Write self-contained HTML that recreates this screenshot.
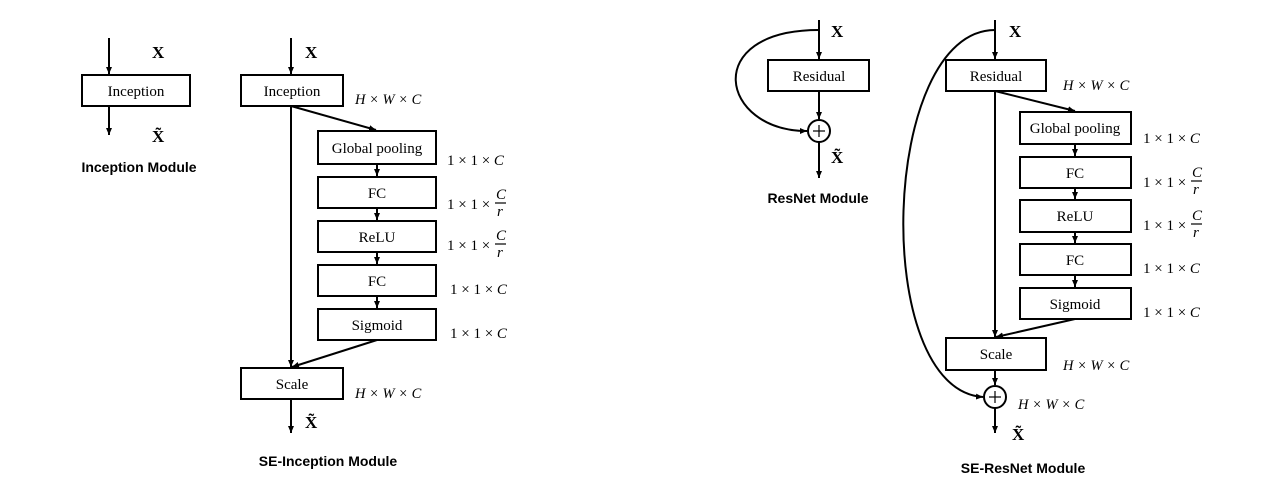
<!DOCTYPE html>
<html><head><meta charset="utf-8"><style>
html,body{margin:0;padding:0;background:#fff;}
svg text{font-family:"Liberation Serif",serif;fill:#000;}
.b{font-size:15px;text-anchor:middle;}
.m{font-size:14.5px;font-style:italic;}
.n{font-size:15px;}
.f{font-size:15px;font-style:italic;}
.x{font-size:17px;font-weight:bold;}
.cap{font-family:"Liberation Sans",sans-serif !important;font-size:14px;font-weight:bold;text-anchor:middle;}
</style></head><body>
<svg width="1267" height="485" viewBox="0 0 1267 485" xmlns="http://www.w3.org/2000/svg">
<defs>
<marker id="a" markerWidth="8" markerHeight="8" refX="7" refY="4" orient="auto" markerUnits="userSpaceOnUse">
<path d="M0,1 L7,4 L0,7 Z" fill="#000"/></marker>
</defs>
<g stroke="#000" stroke-width="2" fill="none">
<line x1="109" y1="38" x2="109" y2="74" marker-end="url(#a)"/>
<rect x="82" y="75" width="108" height="31" fill="#fff"/>
<line x1="109" y1="106" x2="109" y2="135" marker-end="url(#a)"/>
<line x1="291" y1="38" x2="291" y2="74" marker-end="url(#a)"/>
<rect x="241" y="75" width="102" height="31"/>
<line x1="291" y1="106" x2="291" y2="367" marker-end="url(#a)"/>
<line x1="291" y1="106" x2="376" y2="130" marker-end="url(#a)"/>
<rect x="318" y="131" width="118" height="33"/>
<rect x="318" y="177" width="118" height="31"/>
<rect x="318" y="221" width="118" height="31"/>
<rect x="318" y="265" width="118" height="31"/>
<rect x="318" y="309" width="118" height="31"/>
<line x1="377" y1="164" x2="377" y2="176" marker-end="url(#a)"/>
<line x1="377" y1="208" x2="377" y2="220" marker-end="url(#a)"/>
<line x1="377" y1="252" x2="377" y2="264" marker-end="url(#a)"/>
<line x1="377" y1="296" x2="377" y2="308" marker-end="url(#a)"/>
<line x1="377" y1="340" x2="292" y2="367" marker-end="url(#a)"/>
<rect x="241" y="368" width="102" height="31"/>
<line x1="291" y1="399" x2="291" y2="433" marker-end="url(#a)"/>
<line x1="819" y1="20" x2="819" y2="59" marker-end="url(#a)"/>
<rect x="768" y="60" width="101" height="31"/>
<line x1="819" y1="91" x2="819" y2="119" marker-end="url(#a)"/>
<circle cx="819" cy="131" r="11"/>
<path d="M819,30 C700,30 720,131 807,131" marker-end="url(#a)"/>
<line x1="819" y1="142" x2="819" y2="178" marker-end="url(#a)"/>
<line x1="995" y1="20" x2="995" y2="59" marker-end="url(#a)"/>
<rect x="946" y="60" width="100" height="31"/>
<line x1="995" y1="91" x2="995" y2="337" marker-end="url(#a)"/>
<line x1="995" y1="91" x2="1075" y2="111" marker-end="url(#a)"/>
<rect x="1020" y="112" width="111" height="32"/>
<rect x="1020" y="157" width="111" height="31"/>
<rect x="1020" y="200" width="111" height="32"/>
<rect x="1020" y="244" width="111" height="31"/>
<rect x="1020" y="288" width="111" height="31"/>
<line x1="1075" y1="144" x2="1075" y2="156" marker-end="url(#a)"/>
<line x1="1075" y1="188" x2="1075" y2="199" marker-end="url(#a)"/>
<line x1="1075" y1="232" x2="1075" y2="243" marker-end="url(#a)"/>
<line x1="1075" y1="275" x2="1075" y2="287" marker-end="url(#a)"/>
<line x1="1075" y1="319" x2="996" y2="337" marker-end="url(#a)"/>
<rect x="946" y="338" width="100" height="32"/>
<line x1="995" y1="370" x2="995" y2="385" marker-end="url(#a)"/>
<circle cx="995" cy="397" r="11"/>
<path d="M995,30 C880,30 870,390 983,397" marker-end="url(#a)"/>
<line x1="995" y1="408" x2="995" y2="433" marker-end="url(#a)"/>
</g>
<g stroke="#000" stroke-width="1.2">
<line x1="813" y1="131" x2="825" y2="131"/><line x1="819" y1="125" x2="819" y2="137"/>
<line x1="989" y1="397" x2="1001" y2="397"/><line x1="995" y1="391" x2="995" y2="403"/>
</g>
<text class="x" x="152" y="58">X</text>
<text class="b" x="136" y="96">Inception</text>
<text class="x" x="152" y="142">X̃</text>
<text class="cap" x="139" y="172">Inception Module</text>

<text class="x" x="305" y="58">X</text>
<text class="b" x="292" y="96">Inception</text>
<text class="m" x="355" y="104">H × W × C</text>
<text class="b" x="377" y="153">Global pooling</text>
<text class="b" x="377" y="198">FC</text>
<text class="b" x="377" y="242">ReLU</text>
<text class="b" x="377" y="286">FC</text>
<text class="b" x="377" y="330">Sigmoid</text>
<text class="n" x="447" y="165">1 × 1 × <tspan font-style="italic">C</tspan></text>
<text class="n" x="447" y="209">1 × 1 ×</text>
<text class="f" x="496" y="199">C</text>
<line x1="495" y1="203" x2="506" y2="203" stroke="#000" stroke-width="1.2"/>
<text class="f" x="497" y="216">r</text>
<text class="n" x="447" y="250">1 × 1 ×</text>
<text class="f" x="496" y="240">C</text>
<line x1="495" y1="244" x2="506" y2="244" stroke="#000" stroke-width="1.2"/>
<text class="f" x="497" y="257">r</text>
<text class="n" x="450" y="294">1 × 1 × <tspan font-style="italic">C</tspan></text>
<text class="n" x="450" y="338">1 × 1 × <tspan font-style="italic">C</tspan></text>
<text class="b" x="292" y="389">Scale</text>
<text class="m" x="355" y="398">H × W × C</text>
<text class="x" x="305" y="428">X̃</text>
<text class="cap" x="328" y="466">SE-Inception Module</text>

<text class="x" x="831" y="37">X</text>
<text class="b" x="819" y="81">Residual</text>
<text class="x" x="831" y="163">X̃</text>
<text class="cap" x="818" y="203">ResNet Module</text>

<text class="x" x="1009" y="37">X</text>
<text class="b" x="996" y="81">Residual</text>
<text class="m" x="1063" y="90">H × W × C</text>
<text class="b" x="1075" y="133">Global pooling</text>
<text class="b" x="1075" y="178">FC</text>
<text class="b" x="1075" y="221">ReLU</text>
<text class="b" x="1075" y="265">FC</text>
<text class="b" x="1075" y="309">Sigmoid</text>
<text class="n" x="1143" y="143">1 × 1 × <tspan font-style="italic">C</tspan></text>
<text class="n" x="1143" y="187">1 × 1 ×</text>
<text class="f" x="1192" y="177">C</text>
<line x1="1191" y1="181" x2="1202" y2="181" stroke="#000" stroke-width="1.2"/>
<text class="f" x="1193" y="194">r</text>
<text class="n" x="1143" y="230">1 × 1 ×</text>
<text class="f" x="1192" y="220">C</text>
<line x1="1191" y1="224" x2="1202" y2="224" stroke="#000" stroke-width="1.2"/>
<text class="f" x="1193" y="237">r</text>
<text class="n" x="1143" y="273">1 × 1 × <tspan font-style="italic">C</tspan></text>
<text class="n" x="1143" y="317">1 × 1 × <tspan font-style="italic">C</tspan></text>
<text class="b" x="996" y="359">Scale</text>
<text class="m" x="1063" y="370">H × W × C</text>
<text class="m" x="1018" y="409">H × W × C</text>
<text class="x" x="1012" y="440">X̃</text>
<text class="cap" x="1023" y="473">SE-ResNet Module</text>
</svg>
</body></html>
